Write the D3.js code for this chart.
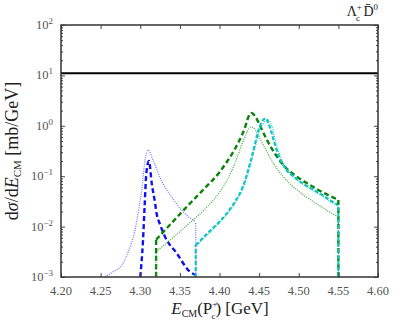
<!DOCTYPE html>
<html>
<head>
<meta charset="utf-8">
<script src="https://cdn.jsdelivr.net/npm/d3@7"></script>
<style>
  body { margin: 0; background: #fff; }
  text { font-family: "Liberation Serif", "DejaVu Serif", serif; }
</style>
</head>
<body>
<script>
// values (E in GeV, dsigma/dE in mb/GeV)
var xTicks = [4.20, 4.25, 4.30, 4.35, 4.40, 4.45, 4.50, 4.55, 4.60];
var yExps = [-3, -2, -1, 0, 1, 2];

var blueDotE = [4.2555, 4.265, 4.2766, 4.2846, 4.2934, 4.2975, 4.3018, 4.306, 4.310, 4.3165, 4.327, 4.340, 4.355, 4.370];
var blueDotV = [0.001, 0.00125, 0.0017, 0.0031, 0.0086, 0.0195, 0.053, 0.21, 0.33, 0.2, 0.08, 0.038, 0.019, 0.0125];

var blueDashE = [4.300, 4.3035, 4.3055, 4.3077, 4.311, 4.3145, 4.3186, 4.3207, 4.325, 4.3312, 4.346, 4.3628, 4.370];
var blueDashV = [0.001, 0.0054, 0.025, 0.115, 0.2, 0.072, 0.03, 0.018, 0.011, 0.0063, 0.00295, 0.00127, 0.0011];

var greenDashE = [4.32, 4.34, 4.36, 4.38, 4.40, 4.41, 4.42, 4.43, 4.44, 4.445, 4.45, 4.455, 4.46, 4.47, 4.48, 4.49, 4.50, 4.51, 4.52, 4.53, 4.54, 4.55];
var greenDashV = [0.0055, 0.012, 0.026, 0.055, 0.12, 0.2, 0.36, 0.75, 1.8, 1.55, 1.1, 0.75, 0.52, 0.28, 0.17, 0.12, 0.092, 0.073, 0.059, 0.048, 0.04, 0.034];

var greenDotE = [4.32, 4.34, 4.36, 4.38, 4.40, 4.41, 4.42, 4.43, 4.44, 4.445, 4.45, 4.455, 4.46, 4.47, 4.48, 4.49, 4.50, 4.51, 4.52, 4.53, 4.54, 4.55];
var greenDotV = [0.0032, 0.0058, 0.011, 0.021, 0.048, 0.085, 0.19, 0.5, 0.95, 0.85, 0.6, 0.42, 0.3, 0.16, 0.1, 0.068, 0.05, 0.038, 0.03, 0.024, 0.019, 0.0157];

var cyanDashE = [4.37, 4.38, 4.39, 4.40, 4.41, 4.42, 4.43, 4.44, 4.445, 4.45, 4.455, 4.4585, 4.462, 4.466, 4.470, 4.476, 4.485, 4.493, 4.505, 4.518, 4.53, 4.54, 4.55];
var cyanDashV = [0.0043, 0.0062, 0.0088, 0.0125, 0.019, 0.032, 0.065, 0.22, 0.45, 0.9, 1.3, 1.4, 1.1, 0.7, 0.42, 0.23, 0.13, 0.1, 0.072, 0.055, 0.042, 0.033, 0.027];

var cyanDotE = [4.37, 4.38, 4.39, 4.40, 4.41, 4.42, 4.43, 4.44, 4.445, 4.45, 4.455, 4.4615, 4.466, 4.470, 4.476, 4.485, 4.493, 4.505, 4.518, 4.53, 4.54, 4.55];
var cyanDotV = [0.004, 0.0058, 0.0083, 0.012, 0.018, 0.03, 0.06, 0.19, 0.38, 0.75, 1.1, 1.3, 1.0, 0.55, 0.27, 0.14, 0.1, 0.07, 0.052, 0.04, 0.031, 0.025];

// vertical drops at the thresholds
var drops = [
  {e: 4.37, lo: 0.001, hi: 0.0125, key: 'blueDot'},
  {e: 4.32, lo: 0.001, hi: 0.0055, key: 'greenDash'},
  {e: 4.55, lo: 0.001, hi: 0.034, key: 'greenDash'},
  {e: 4.32, lo: 0.001, hi: 0.0032, key: 'greenDot'},
  {e: 4.55, lo: 0.001, hi: 0.0157, key: 'greenDot'},
  {e: 4.37, lo: 0.001, hi: 0.0043, key: 'cyanDash'},
  {e: 4.55, lo: 0.001, hi: 0.027, key: 'cyanDash'}
];

var flatLevel = 11;

var styles = {
  blueDot:   {color: '#6f6fff', width: 1.2, dash: '1,1.3'},
  blueDash:  {color: '#1010f0', width: 2.4, dash: '5,3'},
  greenDash: {color: '#0a820a', width: 2.4, dash: '5,3'},
  greenDot:  {color: '#3aa83a', width: 1.2, dash: '1,1.3'},
  cyanDot:   {color: '#35cccc', width: 1.3, dash: '1,1.2'},
  cyanDash:  {color: '#10c4c4', width: 2.2, dash: '4,2'}
};

var series = [
  {key: 'blueDot', e: blueDotE, v: blueDotV},
  {key: 'blueDash', e: blueDashE, v: blueDashV},
  {key: 'greenDot', e: greenDotE, v: greenDotV},
  {key: 'greenDash', e: greenDashE, v: greenDashV},
  {key: 'cyanDot', e: cyanDotE, v: cyanDotV},
  {key: 'cyanDash', e: cyanDashE, v: cyanDashV}
];

var width = 407, height = 326;
var mLeft = 61, mRight = 378, mTop = 25, mBottom = 277;

var svg = d3.select('body').append('svg')
  .attr('width', width)
  .attr('height', height);

var x = d3.scaleLinear().domain([4.2, 4.6]).range([mLeft, mRight]);
var y = d3.scaleLog().domain([1e-3, 1e2]).range([mBottom, mTop]);

svg.append('clipPath').attr('id', 'clip')
  .append('rect').attr('x', mLeft).attr('y', mTop).attr('width', mRight - mLeft).attr('height', mBottom - mTop);

var lines = svg.append('g').attr('clip-path', 'url(#clip)');

var line = d3.line()
  .x(function(d) { return x(d[0]); })
  .y(function(d) { return y(d[1]); })
  .curve(d3.curveMonotoneX);

series.forEach(function(s) {
  var st = styles[s.key];
  var pts = s.e.map(function(e, i) { return [e, s.v[i]]; });
  lines.append('path')
    .attr('d', line(pts))
    .attr('fill', 'none')
    .attr('stroke', st.color)
    .attr('stroke-width', st.width)
    .attr('stroke-dasharray', st.dash);
});

drops.forEach(function(d) {
  var st = styles[d.key];
  lines.append('line')
    .attr('x1', x(d.e)).attr('x2', x(d.e))
    .attr('y1', y(d.lo)).attr('y2', y(d.hi))
    .attr('stroke', st.color)
    .attr('stroke-width', st.width)
    .attr('stroke-dasharray', st.dash);
});

lines.append('line')
  .attr('x1', mLeft).attr('x2', mRight)
  .attr('y1', y(flatLevel)).attr('y2', y(flatLevel))
  .attr('stroke', '#000')
  .attr('stroke-width', 2);

// axes, ticks pointing inwards on all four sides
var tickCol = '#444';
function clean(g) { g.select('.domain').remove(); g.selectAll('line').attr('stroke', tickCol); }

svg.append('g').attr('transform', 'translate(0,' + mBottom + ')')
  .call(d3.axisBottom(x).tickValues(xTicks).tickSize(-4).tickFormat(''))
  .call(clean);
svg.append('g').attr('transform', 'translate(0,' + mTop + ')')
  .call(d3.axisTop(x).tickValues(xTicks).tickSize(-4).tickFormat(''))
  .call(clean);

var minor = [];
yExps.slice(0, -1).forEach(function(p) {
  for (var k = 2; k <= 9; k++) minor.push(k * Math.pow(10, p));
});
var major = yExps.map(function(p) { return Math.pow(10, p); });

[[mLeft, d3.axisLeft], [mRight, d3.axisRight]].forEach(function(a) {
  svg.append('g').attr('transform', 'translate(' + a[0] + ',0)')
    .call(a[1](y).tickValues(major).tickSize(-4).tickFormat(''))
    .call(clean);
  svg.append('g').attr('transform', 'translate(' + a[0] + ',0)')
    .call(a[1](y).tickValues(minor).tickSize(-2).tickFormat(''))
    .call(clean);
});

svg.append('rect')
  .attr('x', mLeft).attr('y', mTop)
  .attr('width', mRight - mLeft).attr('height', mBottom - mTop)
  .attr('fill', 'none')
  .attr('stroke', '#333')
  .attr('stroke-width', 1.5);

// tick labels
var labCol = '#555';
svg.append('g').selectAll('text').data(xTicks).join('text')
  .attr('x', function(d) { return x(d); })
  .attr('y', 295)
  .attr('text-anchor', 'middle')
  .attr('font-size', 12.5)
  .attr('fill', labCol)
  .text(function(d) { return d.toFixed(2); });

var yl = svg.append('g').selectAll('text').data(yExps).join('text')
  .attr('x', 53)
  .attr('y', function(d) { return y(Math.pow(10, d)) + 4; })
  .attr('text-anchor', 'end')
  .attr('font-size', 12.5)
  .attr('fill', labCol);
yl.append('tspan').text('10');
yl.append('tspan').attr('dy', -5).attr('font-size', 9)
  .text(function(d) { return d < 0 ? '\u2212' + (-d) : d; });

// title
var t = svg.append('text').attr('x', 378).attr('y', 16).attr('text-anchor', 'end')
  .attr('font-size', 14).attr('fill', '#222');
t.append('tspan').text('\u039B');
t.append('tspan').attr('font-size', 9).attr('dy', -6).text('+');
t.append('tspan').attr('font-size', 9).attr('dx', -6).attr('dy', 11).text('c');
t.append('tspan').attr('dy', -5).text(' D\u0304');
t.append('tspan').attr('font-size', 9).attr('dy', -6).text('0');

// x label
var xl = svg.append('text').attr('x', 220).attr('y', 314).attr('text-anchor', 'middle')
  .attr('font-size', 17).attr('fill', '#222');
xl.append('tspan').attr('font-style', 'italic').text('E');
xl.append('tspan').attr('font-size', 10).attr('dy', 3).text('CM');
xl.append('tspan').attr('dy', -3).text('(P');
xl.append('tspan').attr('font-size', 9).attr('dy', -7).text('+');
xl.append('tspan').attr('font-size', 9).attr('dx', -6).attr('dy', 12).text('c');
xl.append('tspan').attr('dy', -5).text(') [GeV]');

// y label
var ylab = svg.append('text').attr('transform', 'translate(18,151) rotate(-90)')
  .attr('text-anchor', 'middle').attr('font-size', 18).attr('fill', '#222');
ylab.append('tspan').text('d');
ylab.append('tspan').attr('font-style', 'italic').text('\u03C3');
ylab.append('tspan').text('/d');
ylab.append('tspan').attr('font-style', 'italic').text('E');
ylab.append('tspan').attr('font-size', 11).attr('dy', 3).text('CM');
ylab.append('tspan').attr('dy', -3).text(' [mb/GeV]');
</script>
</body>
</html>
